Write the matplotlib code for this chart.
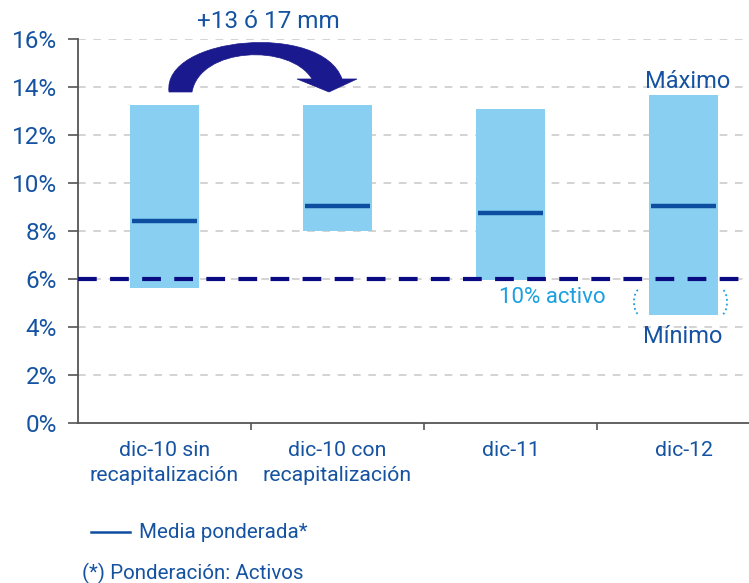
import matplotlib
matplotlib.use("Agg")
import matplotlib.pyplot as plt
from matplotlib.patches import Arc, PathPatch, Polygon
from matplotlib.path import Path
from matplotlib.transforms import IdentityTransform
from matplotlib.lines import Line2D
from matplotlib import font_manager

# ---- data ----
categories = ["dic-10 sin\nrecapitalización", "dic-10 con\nrecapitalización", "dic-11", "dic-12"]
maximo = [13.25, 13.25, 13.1, 13.65]
minimo = [5.6, 8.0, 5.95, 4.5]
media = [8.4, 9.05, 8.75, 9.05]
umbral = 6.0
yticks = [0, 2, 4, 6, 8, 10, 12, 14, 16]
ytick_labels = [f"{v}%" for v in yticks]

names = {f.name for f in font_manager.fontManager.ttflist}
fam = "Liberation Sans Narrow" if "Liberation Sans Narrow" in names else "Roboto"
plt.rcParams['font.family'] = [fam, 'DejaVu Sans']

DARK = "#1553a2"
CYAN = "#1ba0e0"
BAR = "#88cff1"
MEAN = "#0d4ea0"
NAVY = "#0a0a82"

W, H = 749, 583
fig = plt.figure(figsize=(W / 100, H / 100), dpi=100)
ax = fig.add_axes([78 / W, 1 - 422.7 / H, (770 - 78) / W, (422.7 - 39) / H])

x = list(range(len(categories)))
heights = [mx - mn for mx, mn in zip(maximo, minimo)]
ax.bar(x, heights, bottom=minimo, width=0.40, color=BAR, zorder=2)
ax.hlines(media, [i - 0.19 for i in x], [i + 0.19 for i in x], color=MEAN, lw=3.2, zorder=3)
ax.axhline(umbral, color=NAVY, lw=3, dashes=(4.5, 3.2), zorder=4)

ax.set_xlim(-0.5, 3.5)
ax.set_ylim(0, 16)
ax.set_yticks(yticks)
ax.set_yticklabels(ytick_labels)
for v in yticks[1:]:
    ax.axhline(v, color="#c8c8c8", lw=1.1, dashes=(5, 5), zorder=1)

ax.set_xticks(x)
ax.set_xticklabels(categories, linespacing=1.4)
ax.set_xticks([0.5, 1.5, 2.5], minor=True)
ax.tick_params(axis='x', which='major', length=0, pad=13, labelsize=15.3, labelcolor=DARK)
ax.tick_params(axis='x', which='minor', length=5, color="#555555", width=1.2)
ax.tick_params(axis='y', length=7, color="#555555", width=1.2, pad=8, labelsize=17.5, labelcolor=DARK)
for s in ['top', 'right']:
    ax.spines[s].set_visible(False)
for s in ['left', 'bottom']:
    ax.spines[s].set_color("#555555")
    ax.spines[s].set_linewidth(1.3)

def px2d(px, py):
    return ((px - 164.5) / 173.0, (422.7 - py) / 23.98)

# annotations
ax.text(*px2d(688, 82), "Máximo", ha='center', va='center', fontsize=17, color=DARK, zorder=5)
ax.text(*px2d(683, 337), "Mínimo", ha='center', va='center', fontsize=17, color=DARK, zorder=5)
ax.text(*px2d(606, 298), "10% activo", ha='right', va='center', fontsize=16, color=CYAN, zorder=5)

tr = IdentityTransform()
fig.patches.append(Arc((640, H - 302), 12, 26, theta1=100, theta2=260, transform=tr,
                       color=CYAN, lw=1.3, ls=':'))
fig.patches.append(Arc((721, H - 302), 12, 26, theta1=-80, theta2=80, transform=tr,
                       color=CYAN, lw=1.3, ls=':'))

# curved arrow (decoration)
ARROW = "#1a1a8e"
verts = [px2d(169, 92), px2d(162, 36), px2d(322, 22), px2d(342, 79),
         px2d(312, 79), px2d(290, 43), px2d(200, 47), px2d(192, 92), px2d(169, 92)]
codes = [Path.MOVETO, Path.CURVE4, Path.CURVE4, Path.CURVE4,
         Path.LINETO, Path.CURVE4, Path.CURVE4, Path.CURVE4, Path.CLOSEPOLY]
ax.add_patch(PathPatch(Path(verts, codes), facecolor=ARROW, edgecolor=ARROW, lw=0.5,
                       clip_on=False, zorder=6))
ax.add_patch(Polygon([px2d(297, 79), px2d(357, 79), px2d(329, 92)], closed=True,
                     facecolor=ARROW, edgecolor=ARROW, lw=0.5, clip_on=False, zorder=6))

fig.text(268 / W, 1 - 21 / H, "+13 ó 17 mm", ha='center', va='center', fontsize=17.5, color=DARK)

# legend
fig.add_artist(Line2D([91 / W, 130 / W], [1 - 532 / H, 1 - 532 / H], color=MEAN, lw=1.8))
fig.text(139 / W, 1 - 532 / H, "Media ponderada*", ha='left', va='center', fontsize=14.8, color=DARK)
fig.text(82 / W, 1 - 573 / H, "(*) Ponderación: Activos", ha='left', va='center', fontsize=14.8, color=DARK)

fig.savefig("out.png", dpi=100)
